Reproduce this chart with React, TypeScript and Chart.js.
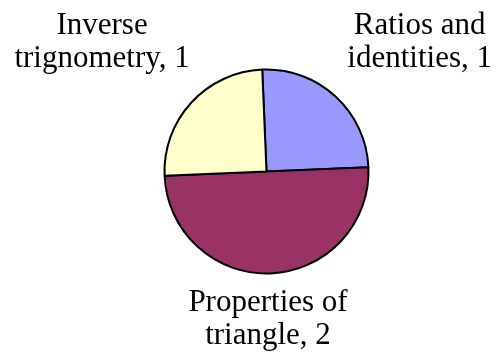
import React, { useEffect, useRef } from "react";
import { Chart, registerables } from "chart.js";

Chart.register(...registerables);

const categories = ["Ratios and identities", "Properties of triangle", "Inverse trignometry"];
const values = [1, 2, 1];
const labelLines = [
  ["Ratios and", "identities, 1"],
  ["Properties of", "triangle, 2"],
  ["Inverse", "trignometry, 1"],
];
const colors = ["#9999FF", "#993366", "#FFFFCC"];

const W = 498;
const H = 362;
const FONT = '31px "Liberation Serif", "Times New Roman", serif';
const LINE_H = 33;
// label block centre, relative to the slice's outer mid-point, in units of the pie radius
const LABEL_OFFSETS = [
  [0.825, -0.558],
  [-0.027, 0.428],
  [-0.876, -0.617],
];

const outsideLabels = {
  id: "outsideLabels",
  afterDraw(chart: any) {
    const ctx = chart.ctx;
    const meta = chart.getDatasetMeta(0);
    ctx.save();
    ctx.font = FONT;
    ctx.fillStyle = "#000";
    ctx.textAlign = "center";
    ctx.textBaseline = "alphabetic";
    meta.data.forEach((arc: any, i: number) => {
      const p = arc.getProps(["x", "y", "startAngle", "endAngle", "outerRadius"], true);
      const mid = (p.startAngle + p.endAngle) / 2;
      const r = p.outerRadius;
      const ex = p.x + Math.cos(mid) * r;
      const ey = p.y + Math.sin(mid) * r;
      const cx = ex + LABEL_OFFSETS[i][0] * r;
      const cy = ey + LABEL_OFFSETS[i][1] * r;
      const lines = labelLines[i];
      lines.forEach((line: string, j: number) => {
        ctx.fillText(line, cx, cy + (j - (lines.length - 1) / 2) * LINE_H + 10.5);
      });
    });
    ctx.restore();
  },
};

export default function App() {
  const ref = useRef<HTMLCanvasElement | null>(null);
  useEffect(() => {
    if (!ref.current) return;
    const chart = new Chart(ref.current, {
      type: "pie",
      data: {
        labels: categories,
        datasets: [
          {
            data: values,
            backgroundColor: colors,
            borderColor: "#000000",
            borderWidth: 2,
          },
        ],
      },
      options: {
        responsive: false,
        animation: false,
        rotation: -2.4,
        layout: { padding: { top: 68.5, bottom: 87.5, left: 163.5, right: 128.5 } },
        plugins: {
          legend: { display: false },
          tooltip: { enabled: false },
        },
      },
      plugins: [outsideLabels],
    });
    return () => chart.destroy();
  }, []);
  return (
    <div style={{ position: "absolute", left: 0, top: 0, width: W, height: H, background: "#fff" }}>
      <canvas ref={ref} width={W} height={H} style={{ width: W, height: H }} />
    </div>
  );
}
